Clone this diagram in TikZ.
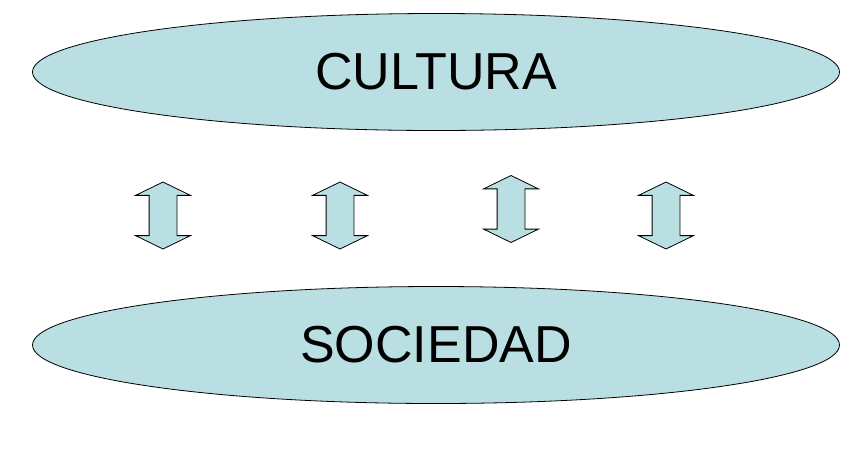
\documentclass[tikz,border=0pt]{standalone}
\usepackage{fontspec}
\setmainfont{Liberation Sans}
\usetikzlibrary{shapes.geometric,shapes.arrows}
\definecolor{paleblue}{HTML}{B9DFE3}

\begin{document}
\begin{tikzpicture}[x=1pt,y=-1pt,
    banda/.style={ellipse, draw, line width=0.8pt, fill=paleblue, minimum width=807pt, minimum height=117pt,
      font=\fontsize{52}{56}\selectfont},
    flecha/.style={double arrow, draw, line width=0.8pt, fill=paleblue, rotate=90, inner xsep=0pt,
      inner ysep=13.5pt, minimum height=67pt, double arrow head extend=13.5pt,
      double arrow head indent=0pt, double arrow tip angle=128}]
  \useasboundingbox (0,0) rectangle (867,451);

  % Ellipses
  \node[banda] (cultura) at (436,72) {CULTURA};
  \node[banda] (sociedad) at (436,345) {SOCIEDAD};

  % Double arrows
  \node[flecha] (f1) at (163,215.5) {};
  \node[flecha] (f2) at (340,215.5) {};
  \node[flecha] (f3) at (511,209) {};
  \node[flecha] (f4) at (666,215.5) {};
\end{tikzpicture}
\end{document}
